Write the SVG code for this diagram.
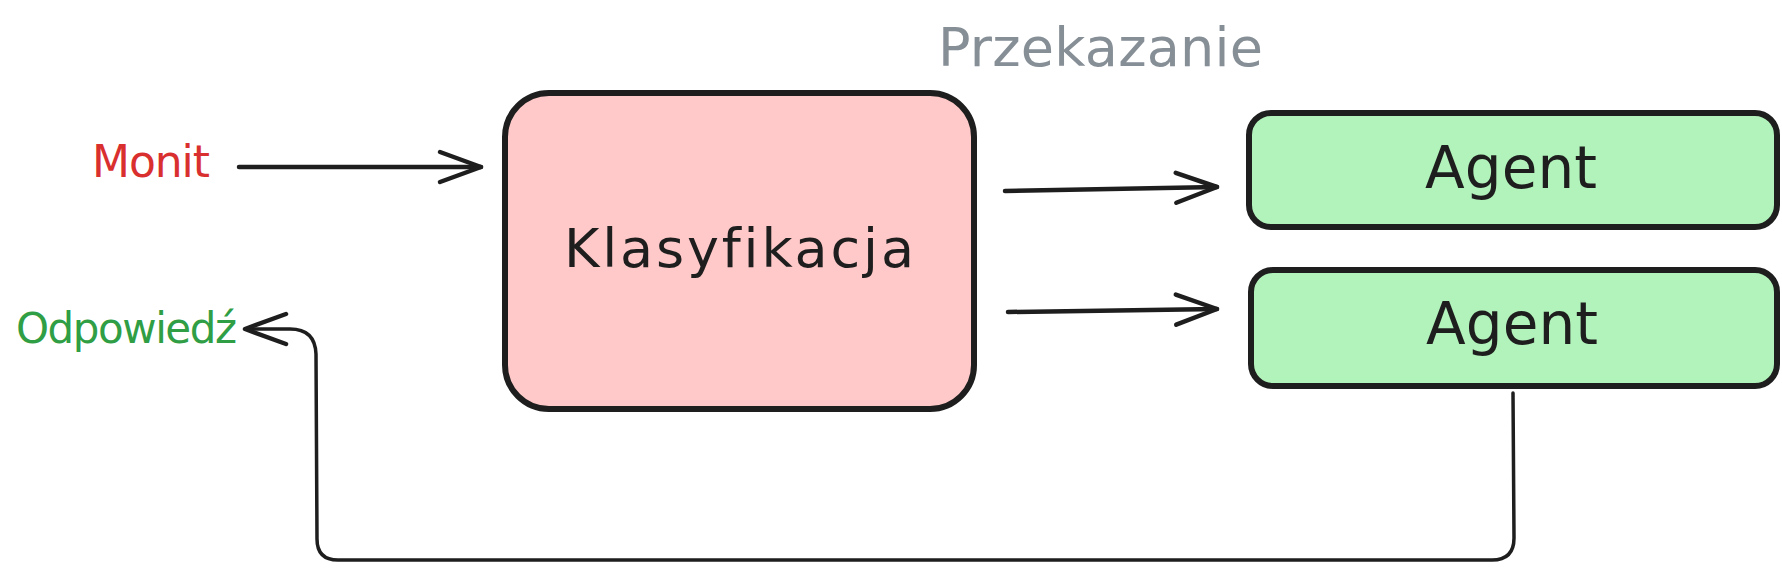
<svg xmlns="http://www.w3.org/2000/svg" width="1782" height="576" viewBox="0 0 1782 576">
  <defs>
    <style>
      .box { stroke: #1e1e1e; stroke-width: 6; stroke-linejoin: round; }
      .lbl { font-family: "DejaVu Sans", "Liberation Sans", sans-serif; font-variant-ligatures: none; }
      .conn { fill: none; stroke: #1e1e1e; stroke-linecap: round; stroke-linejoin: round; }
    </style>
    <marker id="chev" viewBox="-46 -20 50 40" markerWidth="50" markerHeight="40" refX="0" refY="0" orient="auto" markerUnits="userSpaceOnUse">
      <path d="M -41 -15 L 0 0 L -41 15" fill="none" stroke="#1e1e1e" stroke-width="4.5" stroke-linecap="round" stroke-linejoin="round"/>
    </marker>
  </defs>
  <rect width="1782" height="576" fill="#ffffff"/>

  <g id="label-monit">
    <text class="lbl" x="92" y="177" font-size="44" fill="#d9302f" textLength="118" lengthAdjust="spacing">Monit</text>
  </g>
  <g id="label-odpowiedz">
    <text class="lbl" x="16" y="343" font-size="42" fill="#2f9e44" textLength="221" lengthAdjust="spacing">Odpowiedź</text>
  </g>
  <g id="label-przekazanie">
    <text class="lbl" x="938" y="66" font-size="54" fill="#868e96" textLength="325" lengthAdjust="spacing">Przekazanie</text>
  </g>

  <g id="node-klasyfikacja">
    <rect class="box" x="505" y="93" width="469" height="316" rx="44" ry="44" fill="#ffc9c9"/>
    <text class="lbl" x="739" y="267" font-size="54" fill="#1e1e1e" text-anchor="middle" textLength="350" lengthAdjust="spacing">Klasyfikacja</text>
  </g>

  <g id="node-agent-1">
    <rect class="box" x="1249" y="113" width="528" height="114" rx="22" ry="22" fill="#b2f2bb"/>
    <text class="lbl" x="1511" y="188" font-size="58" fill="#1e1e1e" text-anchor="middle" textLength="172" lengthAdjust="spacing">Agent</text>
  </g>

  <g id="node-agent-2">
    <rect class="box" x="1251" y="270" width="526" height="116" rx="22" ry="22" fill="#b2f2bb"/>
    <text class="lbl" x="1512" y="344" font-size="58" fill="#1e1e1e" text-anchor="middle" textLength="172" lengthAdjust="spacing">Agent</text>
  </g>

  <g id="connectors">
    <path class="conn" d="M 239 167 L 481 167" stroke-width="4.5" marker-end="url(#chev)"/>
    <path class="conn" d="M 1005 191 L 1217 187" stroke-width="4.5" marker-end="url(#chev)"/>
    <path class="conn" d="M 1008 312 L 1217 309" stroke-width="4.5" marker-end="url(#chev)"/>
    <path class="conn" d="M 1513 393 L 1514 538 Q 1514 560 1492 560 L 338 560 Q 317 560 317 539 L 316 354 Q 315 329 290 329 L 245 329" stroke-width="3.5" marker-end="url(#chev)"/>
  </g>
</svg>
